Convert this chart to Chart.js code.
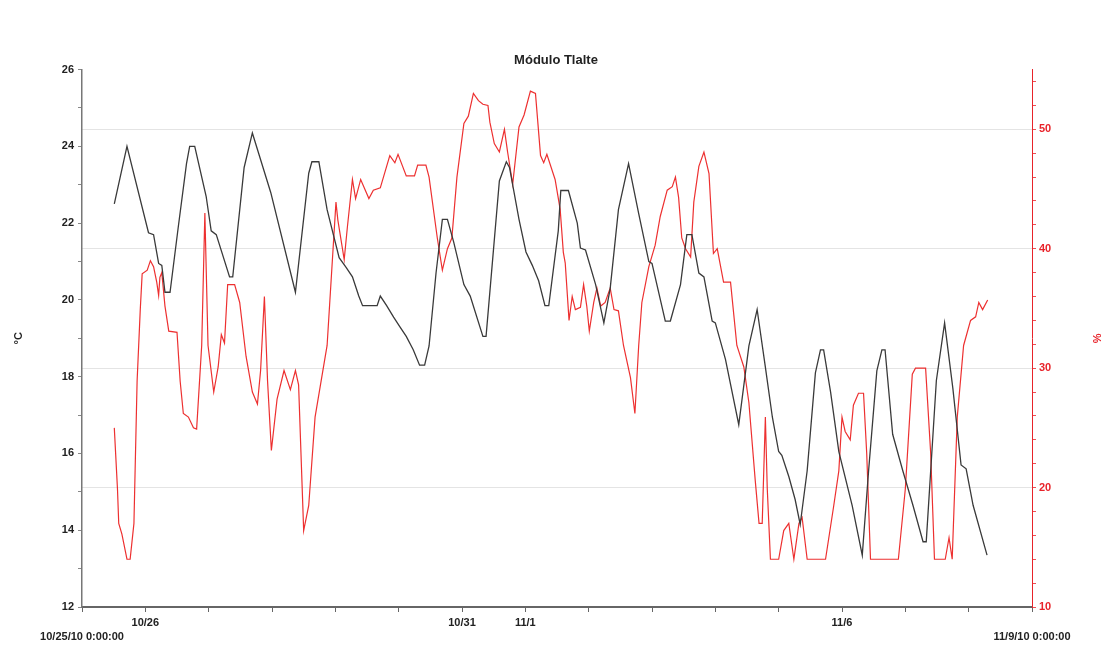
<!DOCTYPE html>
<html>
<head>
<meta charset="utf-8">
<script src="https://cdn.jsdelivr.net/npm/chart.js@4.4.0/dist/chart.umd.min.js"></script>
<style>
  body { margin: 0; background: #fff; }
  #wrap { width: 1112px; height: 652px; }
</style>
</head>
<body>
<div id="wrap"><canvas id="chart" width="1112" height="652"></canvas></div>
<script>
// days since 10/25/10 0:00:00
const tempDays = [0.51, 0.71, 1.05, 1.13, 1.21, 1.26, 1.31, 1.39, 1.52, 1.65, 1.70, 1.78, 1.96, 2.04, 2.12, 2.33, 2.38, 2.56, 2.69, 2.98,
  3.37, 3.58, 3.63, 3.74, 3.87, 4.06, 4.17, 4.27, 4.37, 4.43, 4.66, 4.71, 4.81, 4.92, 5.02, 5.12, 5.23, 5.33, 5.41, 5.48,
  5.59, 5.69, 5.77, 5.87, 6.03, 6.13, 6.33, 6.38, 6.59, 6.70, 6.75, 6.90, 7.01, 7.11, 7.21, 7.31, 7.37, 7.52, 7.56, 7.68,
  7.82, 7.87, 7.95, 8.11, 8.24, 8.34, 8.47, 8.63, 8.79, 8.95, 9.00, 9.21, 9.29, 9.45, 9.55, 9.63, 9.74, 9.82, 9.95, 10.00,
  10.16, 10.37, 10.53, 10.66, 10.79, 10.90, 11.00, 11.05, 11.16, 11.26, 11.34, 11.45, 11.58, 11.66, 11.71, 11.82, 11.95, 12.16, 12.32, 12.42,
  12.55, 12.63, 12.68, 12.80, 12.96, 13.12, 13.28, 13.33, 13.49, 13.62, 13.75, 13.88, 13.96, 14.07, 14.29];
const tempValues = [22.5, 24.0, 21.75, 21.7, 20.95, 20.9, 20.2, 20.2, 21.9, 23.55, 24.0, 24.0, 22.7, 21.8, 21.7, 20.6, 20.6, 23.45, 24.35, 22.8,
  20.2, 23.3, 23.6, 23.6, 22.35, 21.1, 20.85, 20.6, 20.1, 19.85, 19.85, 20.1, 19.85, 19.55, 19.3, 19.05, 18.7, 18.3, 18.3, 18.8,
  20.7, 22.1, 22.1, 21.5, 20.4, 20.1, 19.05, 19.05, 23.1, 23.6, 23.45, 22.1, 21.25, 20.9, 20.5, 19.85, 19.85, 21.8, 22.85, 22.85,
  22.0, 21.35, 21.3, 20.4, 19.4, 20.3, 22.35, 23.55, 22.25, 21.0, 20.95, 19.45, 19.45, 20.4, 21.7, 21.7, 20.7, 20.6, 19.45, 19.4,
  18.45, 16.75, 18.8, 19.75, 18.25, 16.95, 16.05, 15.95, 15.4, 14.8, 14.15, 15.55, 18.1, 18.7, 18.7, 17.6, 16.05, 14.65, 13.35, 15.55,
  18.15, 18.7, 18.7, 16.5, 15.55, 14.65, 13.7, 13.7, 17.9, 19.4, 17.7, 15.7, 15.6, 14.65, 13.35];

const humDays = [0.51, 0.56, 0.58, 0.63, 0.71, 0.76, 0.82, 0.87, 0.92, 0.95, 1.03, 1.08, 1.13, 1.18, 1.21, 1.23, 1.26, 1.31, 1.37, 1.50,
  1.55, 1.60, 1.68, 1.76, 1.81, 1.89, 1.94, 1.99, 2.08, 2.15, 2.20, 2.25, 2.30, 2.41, 2.49, 2.59, 2.69, 2.77, 2.82, 2.88,
  2.93, 2.99, 3.08, 3.19, 3.29, 3.37, 3.42, 3.50, 3.58, 3.68, 3.87, 3.94, 4.01, 4.04, 4.14, 4.19, 4.27, 4.32, 4.40, 4.53,
  4.60, 4.71, 4.86, 4.94, 4.99, 5.12, 5.25, 5.30, 5.43, 5.48, 5.61, 5.69, 5.77, 5.84, 5.92, 6.03, 6.10, 6.18, 6.26, 6.33,
  6.41, 6.44, 6.51, 6.59, 6.67, 6.72, 6.80, 6.90, 6.98, 7.08, 7.16, 7.24, 7.29, 7.34, 7.47, 7.55, 7.60, 7.63, 7.69, 7.74,
  7.79, 7.87, 7.92, 7.97, 8.01, 8.08, 8.13, 8.19, 8.26, 8.34, 8.40, 8.47, 8.55, 8.66, 8.73, 8.79, 8.84, 8.95, 9.05, 9.13,
  9.24, 9.32, 9.37, 9.42, 9.47, 9.53, 9.61, 9.66, 9.74, 9.82, 9.90, 9.97, 10.03, 10.13, 10.24, 10.34, 10.45, 10.53, 10.63, 10.69,
  10.74, 10.79, 10.82, 10.87, 11.00, 11.08, 11.16, 11.24, 11.32, 11.37, 11.45, 11.74, 11.87, 11.95, 12.00, 12.05, 12.13, 12.18, 12.26, 12.34,
  12.39, 12.45, 12.89, 13.00, 13.11, 13.16, 13.32, 13.40, 13.46, 13.63, 13.69, 13.74, 13.82, 13.92, 14.03, 14.11, 14.16, 14.22, 14.30];
const humValues = [25.0, 19.9, 17.0, 16.1, 14.0, 14.0, 17.0, 28.9, 34.9, 37.9, 38.2, 39.0, 38.5, 37.2, 36.1, 37.6, 38.0, 35.2, 33.1, 33.0,
  28.9, 26.2, 25.9, 25.0, 24.9, 31.9, 43.0, 31.9, 28.0, 30.1, 32.8, 32.1, 37.0, 37.0, 35.5, 31.0, 28.0, 27.0, 29.8, 36.0,
  28.9, 23.1, 27.4, 29.8, 28.2, 29.8, 28.6, 16.4, 18.5, 25.9, 31.9, 37.9, 43.9, 42.4, 39.1, 41.8, 45.8, 44.2, 45.8, 44.2,
  44.9, 45.1, 47.8, 47.2, 47.9, 46.1, 46.1, 47.0, 47.0, 46.0, 40.9, 38.2, 40.0, 40.9, 46.0, 50.5, 51.1, 53.0, 52.4, 52.1,
  52.0, 50.6, 48.8, 48.1, 50.0, 48.1, 45.4, 50.2, 51.2, 53.2, 53.0, 47.8, 47.2, 47.9, 45.8, 43.3, 39.7, 38.8, 34.0, 36.0,
  34.9, 35.1, 37.0, 35.2, 33.1, 35.5, 36.7, 35.2, 35.5, 36.7, 34.9, 34.8, 31.9, 29.2, 26.2, 31.9, 35.5, 38.5, 40.3, 42.7,
  44.9, 45.2, 46.0, 44.3, 40.9, 40.0, 39.3, 43.9, 46.9, 48.1, 46.3, 39.6, 40.0, 37.2, 37.2, 31.9, 30.1, 27.1, 20.6, 17.0,
  17.0, 25.9, 19.9, 14.0, 14.0, 16.4, 17.0, 14.0, 17.0, 17.5, 14.0, 14.0, 18.5, 21.4, 25.9, 24.7, 24.0, 26.9, 27.9, 27.9,
  22.9, 14.0, 14.0, 19.9, 29.5, 30.0, 30.0, 22.9, 14.0, 14.0, 15.8, 14.0, 25.9, 31.9, 34.0, 34.3, 35.5, 34.9, 35.7];

const xTickDays = [0, 1, 6, 7, 12, 15];
const xTickLabels = [['', '10/25/10 0:00:00'], '10/26', '10/31', '11/1', '11/6', ['', '11/9/10 0:00:00']];
const humGridValues = [20, 30, 40, 50];

const labelFont = { family: 'Liberation Sans', size: 11, weight: 'bold' };

new Chart(document.getElementById('chart'), {
  type: 'line',
  data: {
    datasets: [
      {
        label: '°C',
        data: tempDays.map((d, i) => ({ x: d, y: tempValues[i] })),
        borderColor: '#3a3a3a',
        borderWidth: 1.3,
        pointRadius: 0,
        tension: 0,
        yAxisID: 'y'
      },
      {
        label: '%',
        data: humDays.map((d, i) => ({ x: d, y: humValues[i] })),
        borderColor: 'rgba(235,25,25,0.9)',
        borderWidth: 1.2,
        pointRadius: 0,
        tension: 0,
        yAxisID: 'y1'
      }
    ]
  },
  options: {
    responsive: false,
    animation: false,
    layout: { padding: 0 },
    plugins: {
      legend: { display: false },
      tooltip: { enabled: false },
      title: {
        display: true,
        text: 'Módulo Tlalte',
        color: '#222',
        font: { family: 'Liberation Sans', size: 13, weight: 'bold' },
        padding: { top: 53, bottom: 1 }
      }
    },
    scales: {
      x: {
        type: 'linear',
        min: 0,
        max: 15,
        ticks: {
          stepSize: 1,
          autoSkip: false,
          maxRotation: 0,
          padding: 4,
          color: '#222',
          font: { family: 'Liberation Sans', size: 11, weight: 'bold', lineHeight: 1.3 },
          callback: (v) => {
            const i = xTickDays.indexOf(v);
            return i >= 0 ? xTickLabels[i] : '';
          }
        },
        grid: { drawOnChartArea: false, tickLength: 5, tickColor: '#666' },
        border: { color: '#666', width: 2 },
        afterFit: (scale) => { scale.height = 45; }
      },
      y: {
        position: 'left',
        min: 12,
        max: 26,
        ticks: {
          stepSize: 1,
          padding: 4,
          color: '#222',
          font: labelFont,
          callback: (v) => (v % 2 === 0 ? v : '')
        },
        title: { display: true, text: '°C', color: '#222', font: labelFont, padding: { top: 12, bottom: 4 } },
        grid: { drawOnChartArea: false, tickLength: 4, tickColor: '#888' },
        border: { color: '#777', width: 1.5 },
        afterFit: (scale) => { scale.width = 82; }
      },
      y1: {
        position: 'right',
        min: 10,
        max: 55,
        ticks: {
          stepSize: 1,
          padding: 3,
          color: '#e8232a',
          font: labelFont,
          callback: (v) => (v % 5 === 0 ? v : '')
        },
        title: { display: true, text: '%', color: '#e8232a', font: labelFont, padding: { top: 9, bottom: 4 } },
        grid: {
          drawOnChartArea: true,
          color: (ctx) => (humGridValues.includes(ctx.tick && ctx.tick.value) ? '#e4e4e4' : 'rgba(0,0,0,0)'),
          tickColor: 'rgba(232,35,42,0.8)',
          tickLength: 4
        },
        border: { color: '#e8232a', width: 1 },
        afterFit: (scale) => { scale.width = 80; }
      }
    }
  }
});
</script>
</body>
</html>
